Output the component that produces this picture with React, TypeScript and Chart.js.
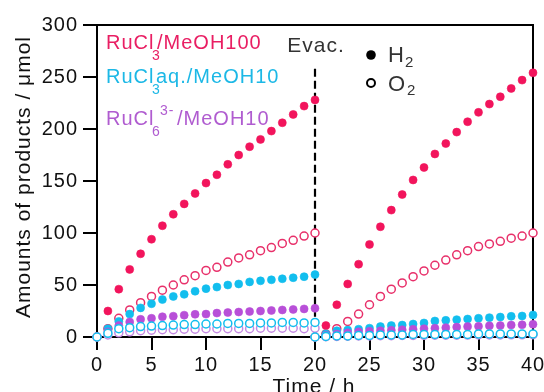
import React, { useEffect, useRef } from "react";
import { Chart, registerables } from "chart.js";

Chart.register(...registerables);

// Time axes (h): before and after evacuation
const timeA = [0, 1, 2, 3, 4, 5, 6, 7, 8, 9, 10, 11, 12, 13, 14, 15, 16, 17, 18, 19, 20];
const timeB = [20, 21, 22, 23, 24, 25, 26, 27, 28, 29, 30, 31, 32, 33, 34, 35, 36, 37, 38, 39, 40];

// RuCl3/MeOH100
const redH2A = [0, 25, 46, 65, 80, 94, 107, 118, 128, 138, 148, 156, 166, 175, 183, 190, 198, 206, 214, 222, 228];
const redH2B = [0, 11, 31, 51, 70, 89, 106, 122, 137, 151, 163, 176, 186, 197, 207, 216, 224, 231, 239, 247, 254];
const redO2A = [0, 8, 18, 26, 33, 39, 45, 50, 55, 59, 64, 67, 72, 76, 79, 83, 86, 90, 93, 97, 100];
const redO2B = [0, 3, 8, 15, 22, 31, 39, 46, 52, 58, 63.5, 69, 74, 79, 83, 87, 89.5, 92, 95, 97, 100];

// RuCl3 aq./MeOH10
const cyanH2A = [0, 8, 15, 22, 28, 32, 36, 39, 41, 44, 46.5, 48, 50, 51, 53, 54, 55, 56, 57, 58, 60];
const cyanH2B = [0, 3, 6, 6.7, 7.5, 8.5, 10, 11, 11.5, 12.5, 13.5, 15.4, 16, 16.7, 17.3, 18, 18.6, 19.2, 19.9, 20.2, 21.2];
const cyanO2A = [0, 3.5, 8, 9, 10, 10.5, 11, 11.5, 12, 12, 12.5, 12.5, 13, 13, 13, 13.5, 13.5, 14, 14, 13.5, 14];
const cyanO2B = [0, 0.5, 1, 1, 1.5, 1.5, 2, 2, 2, 2.5, 2.5, 2.5, 2.5, 2.5, 2.5, 3, 3, 3, 3, 3, 3];

// RuCl6 3-/MeOH10
const purpleH2A = [0, 5, 11, 14.5, 17, 18, 19.5, 20, 21, 21.8, 22, 23, 23.5, 24, 24.5, 25, 25.5, 26, 26.5, 27, 27.6];
const purpleH2B = [0, 1.5, 3, 4, 5, 5.5, 6, 6.5, 7, 7.5, 8, 8.5, 9, 9.5, 10, 10.3, 10.7, 11, 11.5, 11.8, 12.2];
const purpleO2A = [0, 2, 4, 5, 6, 6.5, 7, 7, 7.5, 7.5, 8, 8, 8, 8, 8, 8.5, 8.5, 8.5, 8.5, 8, 8.5];
const purpleO2B = [0, 0.3, 0.5, 0.8, 1, 1, 1.2, 1.3, 1.5, 1.5, 1.6, 1.7, 1.8, 1.8, 1.9, 2, 2, 2, 2.1, 2.1, 2.2];

const evacTime = 20;
const evacTop = 258;

const FONT = '"Liberation Sans", Arial, sans-serif';
const RED = "#F2145C";
const CYAN = "#12BEEE";
const PURPLE = "#B84FD8";

function pts(a: number[], b: number[]) {
  return [
    ...timeA.map((t, i) => ({ x: t, y: a[i] })),
    ...timeB.map((t, i) => ({ x: t, y: b[i] })),
  ];
}

export default function App() {
  const ref = useRef<HTMLCanvasElement>(null);
  useEffect(() => {
    const filled = (label: string, color: string, a: number[], b: number[], order: number) => ({
      label,
      data: pts(a, b),
      showLine: false,
      pointRadius: 4,
      pointHoverRadius: 4,
      pointBackgroundColor: color,
      pointBorderColor: color,
      pointBorderWidth: 0.6,
      order,
      clip: false as any,
    });
    const open = (label: string, color: string, a: number[], b: number[], order: number) => ({
      label,
      data: pts(a, b),
      showLine: false,
      pointRadius: 4,
      pointHoverRadius: 4,
      pointBackgroundColor: "#ffffff",
      pointBorderColor: color,
      pointBorderWidth: 1.5,
      order,
      clip: false as any,
    });

    const overlay = {
      id: "overlay",
      beforeDraw(chart: any) {
        const ctx = chart.ctx;
        ctx.save();
        ctx.fillStyle = "#fff";
        ctx.fillRect(0, 0, chart.width, chart.height);
        ctx.restore();
        (ctx as any).letterSpacing = "1px";
      },
      beforeDatasetsDraw(chart: any) {
        const ctx = chart.ctx;
        const a = chart.chartArea;
        const xs = chart.scales.x;
        const ys = chart.scales.y;
        ctx.save();
        ctx.strokeStyle = "#000";
        ctx.lineWidth = 2;
        ctx.strokeRect(a.left, a.top, a.right - a.left, a.bottom - a.top);
        const ex = xs.getPixelForValue(evacTime);
        ctx.setLineDash([8, 4]);
        ctx.lineWidth = 2.2;
        ctx.beginPath();
        ctx.moveTo(ex, ys.getPixelForValue(evacTop));
        ctx.lineTo(ex, a.bottom);
        ctx.stroke();
        ctx.restore();
      },
      afterDraw(chart: any) {
        const ctx = chart.ctx;
        ctx.save();
        (ctx as any).letterSpacing = "1px";
        const txt = (s: string, x: number, y: number, size: number, color: string, align: CanvasTextAlign = "left") => {
          ctx.font = `${size}px ${FONT}`;
          ctx.fillStyle = color;
          ctx.textAlign = align;
          ctx.textBaseline = "alphabetic";
          ctx.fillText(s, x, y);
        };
        // series labels
        txt("RuCl", 106, 49, 20, "#E91E63");
        txt("3", 152, 60, 14, "#E91E63");
        txt("/MeOH100", 157, 49, 20, "#E91E63");
        txt("RuCl", 106, 83, 20, "#1CB8E6");
        txt("3", 152, 94, 14, "#1CB8E6");
        txt("aq./MeOH10", 156, 83, 20, "#1CB8E6");
        txt("RuCl", 106, 125, 20, "#B05CD0");
        txt("6", 152, 136, 14, "#B05CD0");
        txt("3-", 160, 115, 14, "#B05CD0");
        txt("/MeOH10", 177, 125, 20, "#B05CD0");
        // Evac.
        txt("Evac.", 316, 52, 21, "#333", "center");
        // H2 / O2 key
        ctx.fillStyle = "#000";
        ctx.beginPath();
        ctx.arc(371, 55, 4.8, 0, Math.PI * 2);
        ctx.fill();
        ctx.strokeStyle = "#000";
        ctx.lineWidth = 2;
        ctx.beginPath();
        ctx.arc(371, 83, 4, 0, Math.PI * 2);
        ctx.stroke();
        txt("H", 388, 62, 22, "#333");
        txt("2", 405, 67, 15, "#333");
        txt("O", 388, 91, 22, "#333");
        txt("2", 407, 95, 15, "#333");
        // axis titles
        txt("Time / h", 314, 393, 21, "#111", "center");
        ctx.translate(30, 177);
        ctx.rotate(-Math.PI / 2);
        txt("Amounts of products / \u03bcmol", 0, 0, 21, "#111", "center");
        ctx.restore();
        (ctx as any).letterSpacing = "0px";
      },
    };

    const chart = new Chart(ref.current as HTMLCanvasElement, {
      type: "line",
      data: {
        datasets: [
          open("RuCl3aq./MeOH10 O2", CYAN, cyanO2A, cyanO2B, 0),
          open("RuCl6/MeOH10 O2", "#C48AE2", purpleO2A, purpleO2B, 1),
          filled("RuCl6/MeOH10 H2", PURPLE, purpleH2A, purpleH2B, 2),
          filled("RuCl3aq./MeOH10 H2", CYAN, cyanH2A, cyanH2B, 3),
          open("RuCl3/MeOH100 O2", "#E8306A", redO2A, redO2B, 4),
          filled("RuCl3/MeOH100 H2", RED, redH2A, redH2B, 5),
        ] as any,
      },
      options: {
        animation: false,
        responsive: false,
        devicePixelRatio: 1,
        layout: { padding: { left: 0, right: 11, top: 25, bottom: 0 } },
        plugins: { legend: { display: false }, tooltip: { enabled: false }, title: { display: false } },
        scales: {
          x: {
            type: "linear",
            min: 0,
            max: 40,
            ticks: { stepSize: 5, font: { family: FONT, size: 20 }, color: "#111", padding: 3, maxRotation: 0, autoSkip: false },
            grid: { drawOnChartArea: false, drawTicks: true, tickLength: 13, color: "#000", lineWidth: 2 },
            border: { display: true, color: "#000", width: 2 },
            afterFit(s: any) {
              s.height = 55;
              s.paddingLeft = 0;
              s.paddingRight = 0;
            },
          },
          y: {
            type: "linear",
            min: 0,
            max: 300,
            ticks: { stepSize: 50, font: { family: FONT, size: 20 }, color: "#111", padding: 5 },
            grid: { drawOnChartArea: false, drawTicks: true, tickLength: 14, color: "#000", lineWidth: 2 },
            border: { display: true, color: "#000", width: 2 },
            afterFit(s: any) {
              s.width = 97;
              s.paddingTop = 0;
              s.paddingBottom = 0;
            },
          },
        },
      } as any,
      plugins: [overlay],
    });
    return () => chart.destroy();
  }, []);

  return (
    <div style={{ position: "fixed", left: 0, top: 0, width: 544, height: 392, background: "#fff" }}>
      <canvas ref={ref} width={544} height={392} style={{ display: "block" }} />
    </div>
  );
}
